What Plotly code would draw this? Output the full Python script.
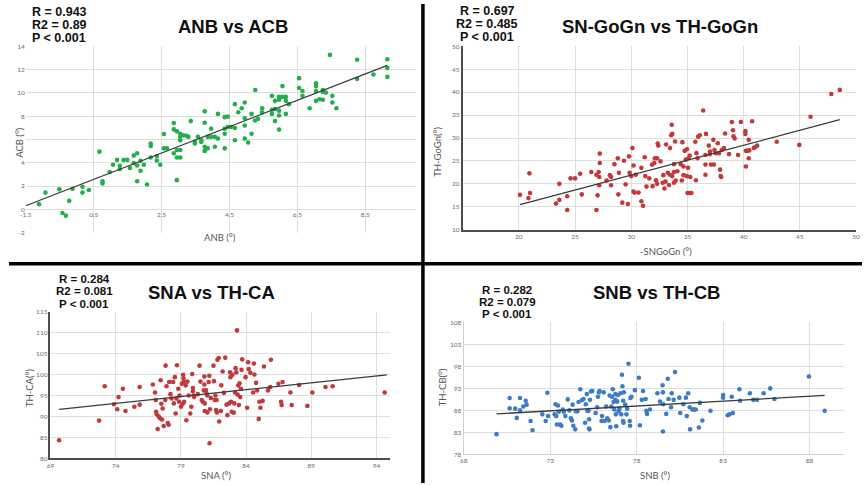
import plotly.graph_objects as go

W, H = 866, 486

# ---------------- data ----------------
anb_x = [-1.11,-0.92,-0.51,-0.42,-0.32,-0.22,-0.12,0.17,0.17,0.36,0.67,0.76,0.76,0.97,1.07,1.19,1.27,1.27,1.38,1.49,
         1.57,1.68,1.68,1.78,1.78,1.78,1.88,1.88,1.98,2.07,2.18,2.18,2.18,2.36,2.36,2.46,2.57,2.57,2.66,2.86,
         2.86,2.86,2.95,2.95,2.95,2.95,3.05,3.05,3.05,3.05,3.05,3.15,3.24,3.29,3.36,3.48,3.48,3.57,3.67,3.67,
         3.77,3.77,3.77,3.77,3.86,3.86,3.96,3.96,4.07,4.07,4.16,4.16,4.36,4.36,4.36,4.36,4.45,4.45,4.55,4.66,
         4.66,4.66,4.76,4.86,4.95,4.95,4.95,4.95,5.05,5.15,5.15,5.25,5.26,5.34,5.46,5.46,5.75,5.75,5.75,5.84,
         5.84,5.84,5.96,5.96,5.96,5.96,5.96,6.06,6.06,6.16,6.16,6.16,6.25,6.55,6.55,6.65,6.65,6.86,7.05,7.05,
         7.05,7.05,7.15,7.25,7.25,7.25,7.34,7.46,7.53,7.53,7.65,8.26,8.26,8.74,9.15,9.15,9.15]
anb_y = [0.45,1.44,1.72,-0.31,-0.54,0.73,1.77,1.94,1.44,1.66,4.96,2.42,2.22,3.21,3.83,4.25,3.75,3.46,4.25,4.25,
         3.55,4.62,3.97,4.82,3.77,2.42,4.17,3.32,3.83,2.14,5.66,5.44,4.45,4.59,4.20,3.83,6.48,5.24,5.24,7.41,
         6.87,4.82,6.70,5.10,4.45,2.51,6.50,6.23,5.94,5.10,4.45,6.37,6.31,6.23,7.58,5.66,5.80,6.23,5.94,5.80,
         8.42,7.44,5.38,5.01,6.23,5.24,6.93,6.23,6.23,5.38,8.20,6.08,7.92,6.93,6.50,5.24,7.97,7.07,7.07,9.04,
         6.99,5.94,8.34,8.68,9.18,7.83,7.21,6.08,5.75,8.20,6.50,7.63,10.25,7.77,8.68,8.34,9.75,8.56,8.20,9.32,
         8.62,7.58,9.66,9.41,8.48,8.06,6.85,10.59,9.66,9.66,9.32,8.20,9.04,11.27,10.42,10.17,9.75,8.68,10.82,10.59,
         10.17,9.32,9.46,10.25,10.08,9.41,10.03,13.27,9.75,9.18,8.68,12.85,11.21,11.58,12.90,12.14,11.38]
anb_trend_x = [-1.5, 9.15]
anb_trend_y = [0.31, 12.37]

sngo_x = [20.1,20.85,20.94,21.0,23.3,23.6,23.6,24.3,24.3,24.6,25.0,25.45,25.6,26.45,26.9,26.9,27.0,27.1,27.15,27.15,
          27.2,27.2,27.8,28.1,28.2,28.2,28.5,28.8,28.85,28.9,29.2,29.35,29.5,29.7,29.8,29.85,30.0,30.1,30.2,30.2,
          30.3,30.4,30.65,30.9,30.9,31.05,31.2,31.35,31.25,31.6,31.85,31.9,32.05,32.1,32.2,32.3,32.3,32.35,32.4,32.6,
          32.8,32.85,32.95,33.05,33.1,33.25,33.35,33.45,33.45,33.55,33.6,33.65,33.65,33.8,33.8,33.8,33.9,33.95,34.1,34.4,
          34.5,34.55,34.65,34.65,34.75,34.85,34.95,34.95,35.0,35.05,35.1,35.2,35.2,35.25,35.35,35.7,35.75,35.8,35.9,35.95,
          36.1,36.4,36.6,36.6,36.6,36.65,36.9,37.0,37.0,37.1,37.3,37.35,37.4,37.5,37.7,37.8,37.9,37.95,38.0,38.05,
          38.25,38.35,38.7,38.95,39.05,39.1,39.2,39.5,39.75,40.15,40.15,40.2,40.2,40.3,40.45,40.45,40.5,40.75,40.9,41.05,
          41.2,42.95,44.95,45.95,47.8,48.55]
sngo_y = [17.6,16.9,22.3,18.0,15.7,20.0,16.5,14.3,17.3,21.2,21.2,22.2,17.7,22.6,14.3,22.0,17.5,22.6,21.5,19.7,
          24.55,26.6,20.75,21.9,21.5,19.7,24.3,25.6,17.7,22.4,15.9,25.05,19.9,15.6,26.0,22.4,21.7,27.8,18.3,24.0,
          18.1,22.0,18.1,23.5,16.2,15.2,25.8,19.4,21.7,21.2,24.2,19.5,24.55,25.6,20.8,25.6,20.0,28.8,28.35,24.9,
          20.25,21.9,19.0,20.5,28.6,22.4,19.75,22.0,27.8,30.6,32.9,30.9,21.7,22.6,24.3,20.25,29.25,20.75,22.75,24.3,
          20.75,29.1,23.8,21.9,27.2,25.3,27.55,21.7,18.0,23.5,25.6,18.0,26.2,21.5,18.0,29.2,20.8,26.7,25.6,30.3,
          30.6,36.0,22.0,24.2,26.3,30.9,28.35,27.05,26.5,24.2,29.6,24.2,27.4,26.7,28.85,26.7,23.1,21.7,21.5,27.4,
          27.8,31.0,26.5,33.5,31.7,30.4,29.9,26.3,33.5,31.5,30.9,27.2,23.8,27.2,25.6,29.6,27.3,33.65,27.8,28.05,
          28.35,29.2,28.5,34.65,39.6,40.5]
sngo_trend_x = [20.1, 48.55]
sngo_trend_y = [15.45, 34.0]

sna_x = [69.66,72.73,73.16,73.87,74.12,74.22,74.55,74.75,75.43,75.84,75.84,76.85,77.02,77.07,77.1,77.15,77.22,77.3,77.4,77.45,
         77.5,77.55,77.6,77.68,77.8,77.83,77.9,78.0,78.06,78.1,78.2,78.28,78.4,78.46,78.54,78.6,78.66,78.7,78.8,78.86,
         78.9,79.0,79.07,79.12,79.17,79.2,79.22,79.25,79.37,79.42,79.5,79.6,79.72,79.8,79.87,79.92,79.92,79.97,80.02,80.3,
         80.43,80.5,80.6,80.68,80.76,80.8,80.8,80.83,80.83,80.93,80.98,81.03,81.03,81.13,81.18,81.2,81.23,81.3,81.5,81.54,
         81.6,81.65,81.7,81.74,81.76,81.8,81.9,81.94,82.07,82.1,82.2,82.3,82.4,82.5,82.57,82.7,82.77,82.8,82.85,82.9,
         82.95,83.05,83.1,83.15,83.2,83.25,83.3,83.35,83.4,83.45,83.5,83.55,83.6,83.65,83.7,83.96,84.08,84.16,84.2,84.33,
         84.54,84.6,84.64,84.77,84.85,84.97,85.02,85.1,85.27,85.37,85.68,85.85,85.9,86.48,86.68,86.73,86.8,87.4,87.5,88.07,
         88.7,89.08,90.09,90.64,94.63]
sna_y = [84.3,89.0,97.2,92.9,91.7,94.6,96.6,91.3,92.3,92.8,97.0,97.6,95.7,93.9,91.1,90.5,87.0,89.95,89.55,98.6,
         93.0,89.25,91.9,87.7,93.9,102.1,97.2,88.4,88.0,98.2,95.3,94.25,98.2,93.1,99.35,90.7,94.25,102.2,96.6,93.5,
         95.0,92.3,97.8,92.9,99.9,99.1,98.3,93.5,97.4,89.1,98.3,95.0,90.7,92.3,100.1,96.75,96.0,95.0,94.6,95.3,
         102.1,98.3,93.9,93.5,96.2,99.5,97.6,93.1,91.3,96.2,95.4,95.0,90.95,98.2,99.7,83.6,91.7,94.4,102.1,98.4,
         93.9,95.0,91.5,93.9,90.95,103.5,103.9,88.8,91.3,97.4,100.7,95.6,104.0,92.8,90.3,93.1,100.5,99.35,93.5,91.1,
         99.9,90.9,93.1,95.7,101.5,100.5,110.5,95.2,97.4,92.7,97.9,94.6,96.6,101.1,103.6,99.35,92.05,102.9,101.3,100.4,
         95.7,102.6,100.0,98.0,96.2,89.4,93.5,92.05,93.7,101.9,96.2,97.0,103.5,97.8,93.5,92.7,98.2,95.7,92.7,97.5,
         92.5,95.7,97.0,97.2,95.7]
sna_trend_x = [69.66, 94.8]
sna_trend_y = [91.67, 99.9]

snb_x = [69.9,70.66,70.66,70.98,71.07,71.26,71.26,71.45,71.59,71.64,71.87,71.98,72.55,72.74,72.84,72.88,73.26,73.31,73.35,73.39,
         73.45,73.5,73.58,73.65,73.73,73.79,73.88,74.02,74.11,74.2,74.26,74.3,74.34,74.45,74.49,74.58,74.64,74.74,74.83,74.93,
         75.02,75.06,75.12,75.15,75.21,75.25,75.25,75.27,75.3,75.36,75.44,75.63,75.72,75.76,75.82,75.86,75.97,76.0,76.1,76.14,
         76.24,76.3,76.39,76.44,76.48,76.54,76.58,76.62,76.67,76.71,76.77,76.77,76.8,76.82,76.88,76.92,76.96,77.01,77.07,77.11,
         77.15,77.18,77.22,77.22,77.24,77.26,77.34,77.41,77.45,77.53,77.6,77.62,77.64,77.7,77.9,78.13,78.19,78.3,78.37,78.52,
         78.56,78.6,78.77,79.2,79.35,79.5,79.52,79.52,79.54,79.71,79.8,79.84,79.99,80.03,80.14,80.22,80.47,80.52,80.7,80.85,
         80.9,80.98,81.07,81.09,81.23,81.32,81.42,81.6,81.66,81.8,82.27,83.0,83.0,83.26,83.37,83.5,83.56,83.94,83.98,84.55,
         84.74,84.96,85.34,85.72,85.97,87.96,88.87]
snb_y = [82.6,90.8,88.5,88.4,86.3,90.8,88.0,88.9,90.2,89.3,85.6,83.5,87.1,85.6,92.0,86.7,87.1,89.4,86.7,84.8,
         89.1,87.7,84.8,84.5,88.2,87.7,86.7,90.5,88.0,86.2,85.7,89.3,84.5,83.7,87.8,87.8,89.9,92.8,90.3,90.6,
         85.2,89.4,91.7,87.9,87.9,86.0,83.9,83.7,90.4,92.3,92.4,87.4,88.7,91.1,92.1,92.4,85.6,86.7,92.1,85.6,
         88.9,86.2,85.7,91.4,84.2,88.9,91.1,92.8,89.9,88.2,91.7,90.4,87.1,84.4,90.0,91.5,87.8,88.4,91.9,87.1,
         96.1,93.5,85.6,90.2,85.2,92.1,89.3,87.1,88.4,98.6,85.6,84.5,90.8,91.1,92.6,95.4,84.6,90.4,92.4,90.6,
         87.9,87.2,88.2,91.9,90.0,93.7,92.1,83.2,89.4,87.2,95.2,90.6,88.7,91.9,90.4,96.7,90.9,87.4,89.4,90.9,
         86.7,91.9,88.7,83.7,88.2,88.2,88.2,84.1,89.7,85.7,87.9,91.5,90.9,86.9,87.1,91.1,87.4,92.8,90.2,91.9,
         90.4,90.4,91.9,93.0,90.6,95.7,87.9]
snb_trend_x = [69.9, 88.87]
snb_trend_y = [87.2, 91.4]

# tick labels
anb_xticks = [-1.5, 0.5, 2.5, 4.5, 6.5, 8.5]
anb_yticks = [-2, 0, 2, 4, 6, 8, 10, 12, 14]
sngo_xticks = [20, 25, 30, 35, 40, 45, 50]
sngo_yticks = [10, 15, 20, 25, 30, 35, 40, 45, 50]
sna_xticks = [69, 74, 79, 84, 89, 94]
sna_yticks = [80, 85, 90, 95, 100, 105, 110, 115]
snb_xticks = [68, 73, 78, 83, 88]
snb_yticks = [78, 83, 88, 93, 98, 103, 108]

# ---------------- helpers ----------------
def px(x):
    return x / W

def py(y):
    return 1 - y / H

GREEN = "#23ad4b"
RED = "#c3393a"
BLUE = "#3b7cc4"
LINE = "#3a3a3a"
GRID = "#dedede"
TICKF = dict(family="Lato, Liberation Sans, sans-serif", size=6.5, color="#6b6b6b")
AXTF = dict(family="Lato, Liberation Sans, sans-serif", size=9.5, color="#555555")

fig = go.Figure()

panels = [
    (anb_x, anb_y, anb_trend_x, anb_trend_y, GREEN, "x", "y"),
    (sngo_x, sngo_y, sngo_trend_x, sngo_trend_y, RED, "x2", "y2"),
    (sna_x, sna_y, sna_trend_x, sna_trend_y, RED, "x3", "y3"),
    (snb_x, snb_y, snb_trend_x, snb_trend_y, BLUE, "x4", "y4"),
]
for xs, ys, tx, ty, col, xa, ya in panels:
    fig.add_trace(go.Scatter(x=xs, y=ys, mode="markers", xaxis=xa, yaxis=ya,
                             marker=dict(size=4.6, color=col), showlegend=False, hoverinfo="skip"))
    fig.add_trace(go.Scatter(x=tx, y=ty, mode="lines", xaxis=xa, yaxis=ya,
                             line=dict(color=LINE, width=1.3), showlegend=False, hoverinfo="skip"))

def ax(domain, rng, ticks, texts=None, **kw):
    d = dict(domain=domain, range=rng, tickvals=ticks, ticktext=texts if texts else [str(t) for t in ticks],
             showgrid=True, gridcolor=GRID, gridwidth=1, zeroline=False, ticks="",
             tickfont=TICKF, fixedrange=True)
    d.update(kw)
    return d

# panel 1
y0_px = 232 - 2 * (232 - 43) / 16.0
fig.update_layout(
    xaxis=ax([px(20), px(415)], [-1.5, 10], anb_xticks, anchor="free", position=py(y0_px),
             showline=False),
    yaxis=ax([py(232), py(43)], [-2, 14], anb_yticks,
             ["-2", "0", "2", "4", "", "8", "10", "12", "14"], anchor="x", showline=False),
    xaxis2=ax([px(462), px(860)], [15, 50], sngo_xticks, anchor="y2",
              showline=True, linecolor="#4d4d4d", linewidth=1.5),
    yaxis2=ax([py(229), py(43)], [10, 50], sngo_yticks, anchor="x2",
              showline=True, linecolor="#4d4d4d", linewidth=1.5),
    xaxis3=ax([px(45), px(388)], [69, 95], sna_xticks, anchor="y3",
              showline=True, linecolor="#4d4d4d", linewidth=1.5),
    yaxis3=ax([py(461), py(312)], [80, 115], sna_yticks, anchor="x3",
              showline=True, linecolor="#4d4d4d", linewidth=1.5),
    xaxis4=ax([px(463), px(848)], [68, 90], snb_xticks, anchor="y4",
              showline=True, linecolor="#d0d0d0", linewidth=1),
    yaxis4=ax([py(457), py(323)], [78, 108], snb_yticks, anchor="x4",
              showline=True, linecolor="#d0d0d0", linewidth=1),
)

annotations = []

def txt(x, y, s, font, angle=0):
    annotations.append(dict(x=px(x), y=py(y), xref="paper", yref="paper", text=s, showarrow=False,
                            xanchor="center", yanchor="middle", font=font, textangle=angle))

STATF = dict(family="Liberation Sans, Arial, sans-serif", size=12.5, color="#111111")
STATF2 = dict(family="Liberation Sans, Arial, sans-serif", size=11.5, color="#111111")
TITLEF = dict(family="Liberation Sans, Arial, sans-serif", size=18.5, color="#111111")

# stats blocks
stats = [
    (54, [8, 21.5, 34], ["R = 0.943", "R2 = 0.89", "P < 0.001"], STATF),
    (487, [7, 20.5, 33], ["R = 0.697", "R2 = 0.485", "P < 0.001"], STATF),
    (79, [279, 291.5, 304], ["R = 0.284", "R2 = 0.081", "P < 0.001"], STATF2),
    (507, [290, 302.5, 315], ["R = 0.282", "R2 = 0.079", "P < 0.001"], STATF2),
]
for cx, ys, lines, f in stats:
    for yy, s in zip(ys, lines):
        txt(cx, yy, "<b>" + s + "</b>", f)

# titles
txt(230, 23, "<b>ANB vs ACB</b>", TITLEF)
txt(662, 23, "<b>SN-GoGn vs TH-GoGn</b>", TITLEF)
txt(208, 293, "<b>SNA vs TH-CA</b>", TITLEF)
txt(658, 293, "<b>SNB vs TH-CB</b>", TITLEF)

# axis titles
txt(217, 237, "ANB (°)", AXTF)
txt(14, 140, "ACB (°)", AXTF, -90)
txt(668, 251, "-SNGoGn (°)", AXTF)
txt(437, 150, "TH-GoGn(°)", AXTF, -90)
txt(212, 478, "SNA (°)", AXTF)
txt(24, 389, "TH-CA(°)", AXTF, -90)
txt(657, 478, "SNB (°)", AXTF)
txt(441, 389, "TH-CB(°)", AXTF, -90)

shapes = [
    dict(type="line", xref="paper", yref="paper", x0=px(421.8), x1=px(421.8), y0=0, y1=1,
         line=dict(color="black", width=3.5)),
    dict(type="line", xref="paper", yref="paper", x0=px(3), x1=1, y0=py(263.5), y1=py(263.5),
         line=dict(color="black", width=3.5)),
]

fig.update_layout(
    width=W, height=H, margin=dict(l=0, r=0, t=0, b=0),
    paper_bgcolor="white", plot_bgcolor="white",
    annotations=annotations, shapes=shapes, showlegend=False,
)

fig.write_html("out.html", config={"displayModeBar": False})
